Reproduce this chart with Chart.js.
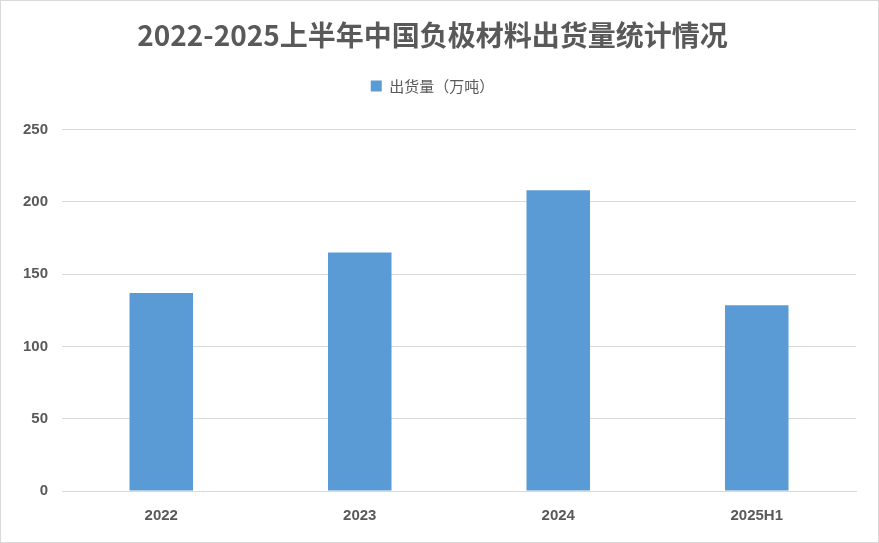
<!DOCTYPE html>
<html>
<head>
<meta charset="utf-8">
<script src="https://cdn.jsdelivr.net/npm/chart.js@4/dist/chart.umd.min.js"></script>
<style>
  html, body { margin: 0; padding: 0; background: #fff; }
  #wrap { width: 877px; height: 541px; border: 1px solid #d9d9d9; position: relative; }
</style>
</head>
<body>
<div id="wrap"><canvas id="c"></canvas></div>
<script>
const categories = ['2022', '2023', '2024', '2025H1'];
const shipments = [137, 165, 208, 128.5];
const seriesName = '出货量（万吨）';
const titleText = '2022-2025上半年中国负极材料出货量统计情况';

// extra space under the legend, like the reference
const legendGap = {
    id: 'legendGap',
    beforeInit(chart) {
        const fit = chart.legend.fit;
        chart.legend.fit = function () { fit.bind(chart.legend)(); this.height += 26; };
    }
};

new Chart(document.getElementById('c'), {
    type: 'bar',
    data: {
        labels: categories,
        datasets: [{
            label: seriesName,
            data: shipments,
            backgroundColor: '#5b9bd5',
            barPercentage: 0.32,
            categoryPercentage: 1
        }]
    },
    options: {
        responsive: true,
        maintainAspectRatio: false,
        animation: false,
        layout: { padding: { left: 8, right: 22, top: 6, bottom: 9 } },
        plugins: {
            title: {
                display: true,
                text: titleText,
                color: '#595959',
                font: { family: 'Noto Sans CJK SC', size: 28, weight: 'bold' },
                padding: { top: 12, bottom: 16 }
            },
            legend: {
                labels: {
                    color: '#595959',
                    boxWidth: 11, boxHeight: 11,
                    font: { family: 'Noto Sans CJK SC', size: 15 }
                }
            },
            tooltip: { enabled: false }
        },
        scales: {
            x: {
                grid: { display: false },
                border: { color: '#d9d9d9' },
                ticks: { color: '#595959', font: { family: 'Liberation Sans', size: 15, weight: 'bold' }, padding: 8 }
            },
            y: {
                min: 0, max: 250,
                ticks: { stepSize: 50, color: '#595959', font: { family: 'Liberation Sans', size: 15, weight: 'bold' }, padding: 14 },
                grid: { color: '#d9d9d9', drawTicks: false },
                border: { display: false }
            }
        }
    },
    plugins: [legendGap]
});
</script>
</body>
</html>
